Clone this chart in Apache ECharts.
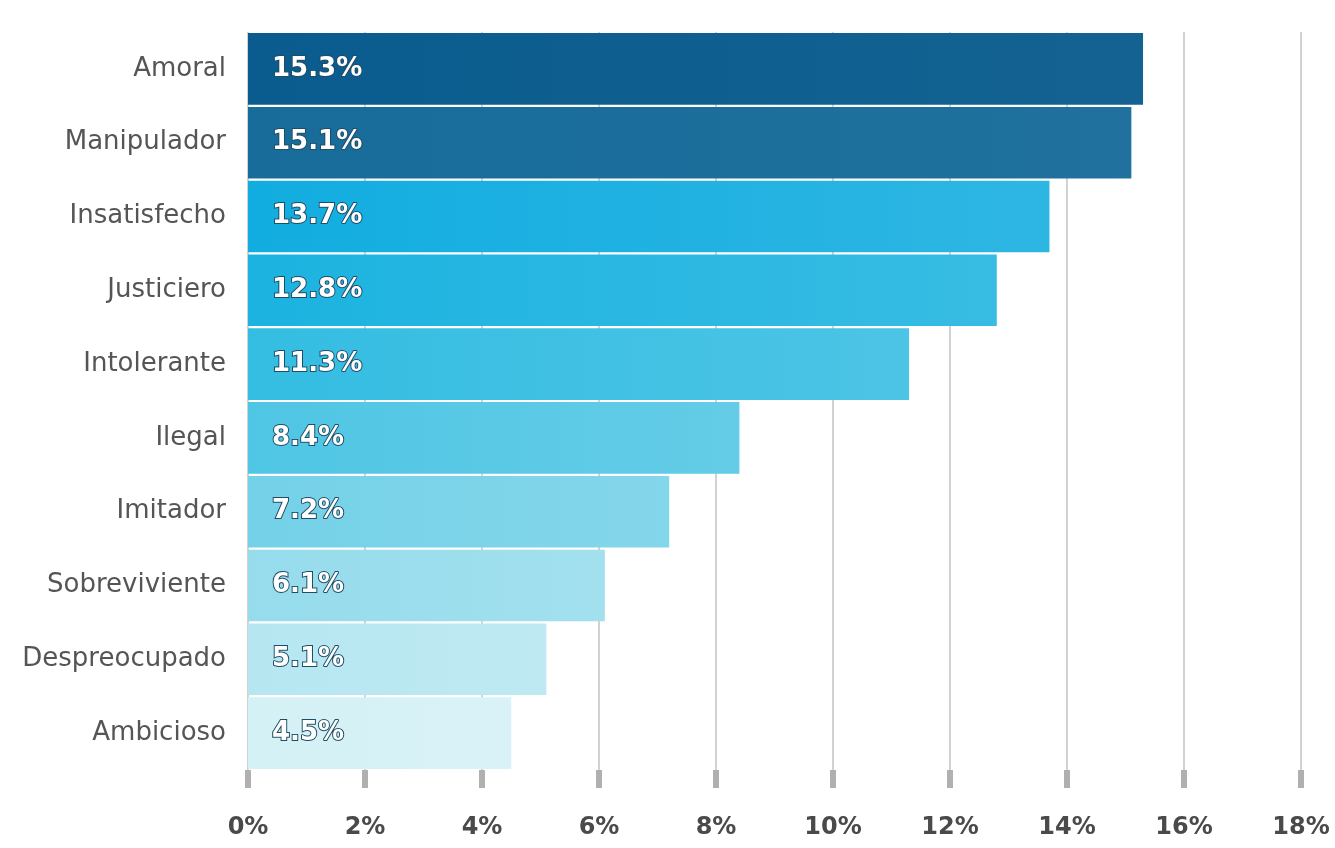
<!DOCTYPE html>
<html>
<head>
<meta charset="utf-8">
<script src="https://cdn.jsdelivr.net/npm/echarts@6/dist/echarts.min.js"></script>
<style>
  html, body { margin: 0; padding: 0; background: #ffffff; }
  #chart { width: 1335px; height: 848px; }
</style>
</head>
<body>
<div id="chart"></div>
<script>
// Perfil de rasgos: porcentaje por categoría
const categories = ['Amoral', 'Manipulador', 'Insatisfecho', 'Justiciero', 'Intolerante',
                    'Ilegal', 'Imitador', 'Sobreviviente', 'Despreocupado', 'Ambicioso'];
const values = [15.3, 15.1, 13.7, 12.8, 11.3, 8.4, 7.2, 6.1, 5.1, 4.5];
const barColors = ['#0a5c8e', '#176c99', '#12ade0', '#1cb3e0', '#34bde2',
                   '#4fc6e4', '#74d1e8', '#96dcec', '#b6e7f1', '#d4f1f6'];
const xTicks = [0, 2, 4, 6, 8, 10, 12, 14, 16, 18];

const chart = echarts.init(document.getElementById('chart'), null, { renderer: 'canvas' });

const seriesData = values.map((v, i) => ({
  value: v,
  itemStyle: {
    color: new echarts.graphic.LinearGradient(0, 0, 1, 0, [
      { offset: 0, color: barColors[i] },
      { offset: 1, color: echarts.color.lift(barColors[i], i < 2 ? 0.04 : 0.12) }
    ])
  }
}));

chart.setOption({
  backgroundColor: '#ffffff',
  animation: false,
  grid: { left: 248, top: 32, width: 1053, bottom: 78, containLabel: false },
  xAxis: {
    type: 'value',
    min: xTicks[0],
    max: xTicks[xTicks.length - 1],
    interval: 2,
    axisLine: { show: false },
    axisTick: { show: true, length: 18, lineStyle: { color: '#b0b0b0', width: 6 } },
    splitLine: { show: true, lineStyle: { color: '#d2d2d2', width: 2 } },
    axisLabel: {
      margin: 46,
      formatter: v => v + '%',
      color: '#4a4a4a',
      fontFamily: 'DejaVu Sans',
      fontWeight: 'bold',
      fontSize: 24
    }
  },
  yAxis: {
    type: 'category',
    data: categories,
    inverse: true,
    axisLine: { show: false },
    axisTick: { show: false },
    axisLabel: {
      margin: 22,
      color: '#555555',
      fontFamily: 'DejaVu Sans',
      fontSize: 26
    }
  },
  series: [{
    type: 'bar',
    data: seriesData,
    barCategoryGap: '3%',
    label: {
      show: true,
      position: 'insideLeft',
      distance: 24,
      formatter: p => p.value.toFixed(1) + '%',
      color: '#ffffff',
      fontFamily: 'DejaVu Sans',
      fontWeight: 'bold',
      fontSize: 26,
      textBorderColor: '#1f4d66',
      textBorderWidth: 2
    }
  }]
});
</script>
</body>
</html>
